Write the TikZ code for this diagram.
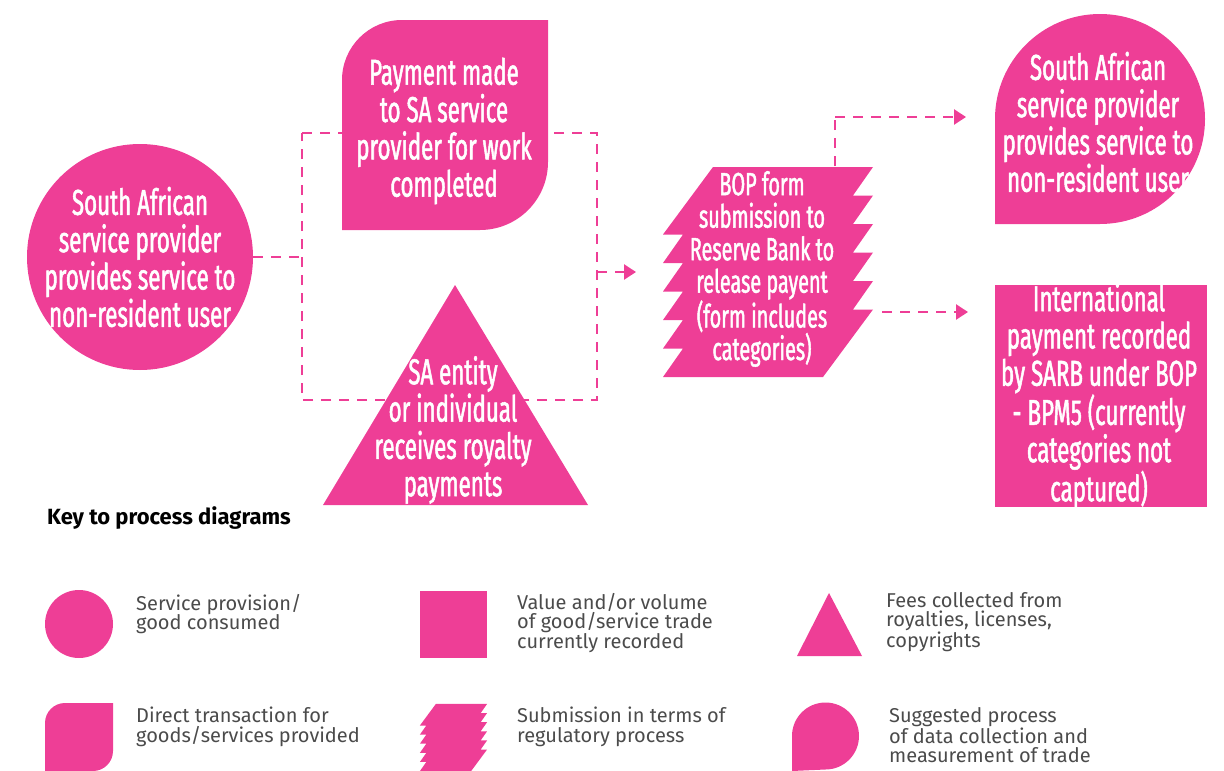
\documentclass[tikz,border=0pt]{standalone}
\usepackage{fontspec}
\setmainfont{Fira Sans}
\newfontfamily\condf[FakeStretch=0.62,FakeBold=1.4]{Fira Sans}
\newfontfamily\keyf{Fira Sans}
\usetikzlibrary{arrows.meta}
\definecolor{brandpink}{RGB}{238,62,150}
\definecolor{keygray}{RGB}{75,75,75}
\newcommand{\bopjag}{(-55,-105) -- (105,-105) -- (85,-76.5) -- (105,-76.5) -- (85,-48) -- (105,-48) -- (85,-19.5) -- (105,-19.5) -- (85,9) -- (105,9) -- (85,37.5) -- (105,37.5) -- (55,105) -- (-105,105) -- (-85,76.5) -- (-105,76.5) -- (-85,48) -- (-105,48) -- (-85,19.5) -- (-105,19.5) -- (-85,-9) -- (-105,-9) -- (-85,-37.5) -- (-105,-37.5) -- cycle}
\begin{document}
\begin{tikzpicture}[x=1pt,y=-1pt,
  shapefill/.style={fill=brandpink,draw=none},
  bigtext/.style={text=white,font=\condf\fontsize{36}{37.3}\selectfont,align=center,inner sep=0pt},
  bortext/.style={text=white,font=\condf\fontsize{32}{32.5}\selectfont,align=center,inner sep=0pt},
  flow/.style={draw=brandpink,line width=2.6pt,dash pattern=on 10pt off 8pt},
  flowtip/.style={-{Triangle[length=12pt,width=15pt]}},
  keytext/.style={text=keygray,font=\keyf\fontsize{20}{19.5}\selectfont,align=left,anchor=west,inner sep=0pt},
  keytitle/.style={font=\keyf\bfseries\fontsize{22}{24}\selectfont,anchor=west,inner sep=0pt}
]
\useasboundingbox (0,0) rectangle (1224,771);

% dashed connectors (drawn first, shapes cover them)
\coordinate (jL) at (302,257);
\coordinate (bTL) at (302,133);
\coordinate (bTR) at (597,133);
\coordinate (bBR) at (597,400);
\coordinate (bBL) at (302,400);
\coordinate (bR) at (597,272);
\coordinate (bopin) at (636,272);
\coordinate (up1) at (835,166);
\coordinate (up2) at (835,117);
\coordinate (tr) at (966,117);
\coordinate (lo1) at (882,312);
\coordinate (br) at (968,312);

% left circle
\node[circle,shapefill,minimum size=226pt,inner sep=0pt] (src) at (140,257) {};
\draw[flow] (src.east) -- (jL);
\draw[flow] (bTL) -- (bTR) -- (bBR) -- (bBL) -- cycle;
\draw[flow,flowtip] (bR) -- (bopin);
\draw[flow] (up1) -- (up2);
\draw[flow,flowtip] (up2) -- (tr);
\draw[flow,flowtip] (lo1) -- (br);

\node[bigtext] (srct) at (140,257) {South African\\service provider\\provides service to\\non-resident user};

% payment leaf
\fill[brandpink] (342,230) -- (342,80) arc[start angle=180,end angle=270,radius=60] -- (548,20) -- (548,162) arc[start angle=0,end angle=90,radius=68] -- cycle;
\node[bigtext] (pay) at (444,131) {Payment made\\to SA service\\provider for work\\completed};

% triangle
\fill[brandpink] (455,285) -- (588,505) -- (323,505) -- cycle;
\node[bigtext] (roy) at (453,430) {SA entity\\or individual\\receives royalty\\payments};

% BOP jagged
\fill[brandpink,shift={(768,272)}] \bopjag;
\node[bortext] (bop) at (762,269) {BOP form\\submission to\\Reserve Bank to\\release payent\\(form includes\\categories)};

% top right teardrop
\fill[brandpink] (995,224) -- (995,119) arc[start angle=180,end angle=450,radius=105] -- cycle;
\node[bigtext] (sug) at (1098,122) {South African\\service provider\\provides service to\\non-resident user};

% bottom right rectangle
\fill[brandpink] (995,285) rectangle (1207,507);
\node[bigtext] (rec) at (1099,396) {International\\payment recorded\\by SARB under BOP\\- BPM5 (currently\\categories not\\captured)};

% key
\node[keytitle] (keyt) at (47,518) {Key to process diagrams};

\fill[brandpink] (79,624) circle[radius=34];
\node[keytext] (k1) at (136,614) {Service provision/\\good consumed};

\fill[brandpink] (420,591) rectangle (487,658);
\node[keytext] (k2) at (517,623) {Value and/or volume\\of good/service trade\\currently recorded};

\fill[brandpink] (829,593) -- (862,656) -- (797,656) -- cycle;
\node[keytext] (k3) at (886,622) {Fees collected from\\royalties, licenses,\\copyrights};

\fill[brandpink] (45,771) -- (45,723) arc[start angle=180,end angle=270,radius=20] -- (113,703) -- (113,751) arc[start angle=0,end angle=90,radius=20] -- cycle;
\node[keytext] (k4) at (136,727) {Direct transaction for\\goods/services provided};

\fill[brandpink,shift={(453.5,737.5)},scale=0.32] \bopjag;
\node[keytext] (k5) at (517,727) {Submission in terms of\\regulatory process};

\fill[brandpink] (792,771) -- (792,736) arc[start angle=180,end angle=450,radius=33.5] -- cycle;
\node[keytext] (k6) at (889,735) {Suggested process\\of data collection and\\measurement of trade};
\end{tikzpicture}
\end{document}
